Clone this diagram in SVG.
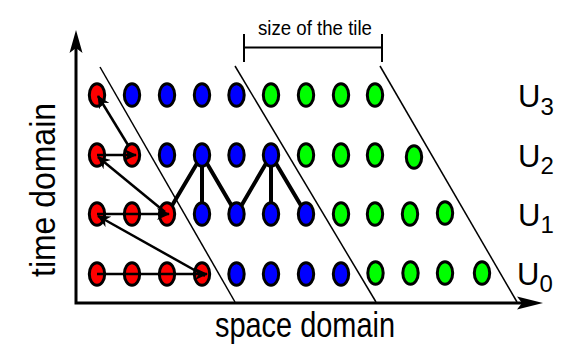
<svg xmlns="http://www.w3.org/2000/svg" width="577" height="347" viewBox="0 0 577 347">
<style>
.r{fill:#ff0000;stroke:#000;stroke-width:3}
.b{fill:#0000ff;stroke:#000;stroke-width:3}
.g{fill:#00ff00;stroke:#000;stroke-width:3}
.diag{stroke:#000;stroke-width:1.5;fill:none}
.thick{stroke:#000;stroke-width:4;fill:none;stroke-linecap:round}
.arr{stroke:#000;stroke-width:2.5;fill:none;marker-end:url(#ah)}
.axis{stroke:#000;stroke-width:3;fill:none}
.t{font-family:"Liberation Sans",Arial,sans-serif;fill:#000}
</style>
<defs>
<marker id="ah" markerUnits="userSpaceOnUse" markerWidth="13" markerHeight="12" viewBox="0 0 13 12" refX="12" refY="6" orient="auto">
<path d="M0,0 L13,6 L0,12 L4,6 Z" fill="#000"/>
</marker>
</defs>
<rect width="577" height="347" fill="#fff"/>

<g id="axes">
<path class="axis" d="M76,46 L76,303 L522,303"/>
<path d="M76,30 L82.5,53 L76,48 L69.5,53 Z" fill="#000"/>
<path d="M543,303 L517,309.5 L522,303 L517,296.5 Z" fill="#000"/>
</g>

<g id="tile-lines">
<line class="diag" x1="100" y1="67" x2="235" y2="302"/>
<line class="diag" x1="235" y1="66" x2="376" y2="302"/>
<line class="diag" x1="380" y1="66" x2="517" y2="302"/>
</g>

<g id="tile-bracket">
<path d="M244,47.5 L382,47.5 M244,34 L244,62 M382,34 L382,62" stroke="#000" stroke-width="2" fill="none"/>
<text class="t" x="258" y="35" font-size="20" textLength="114" lengthAdjust="spacingAndGlyphs">size of the tile</text>
</g>

<g id="dependencies">
<path class="thick" d="M167,214 L202,155 L202,214 M202,155 L236.5,214 L271,155 L271,214 M271,155 L306,214"/>
</g>

<g id="row-U3">
<g id="n3-0"><ellipse class="r" cx="97" cy="95" rx="7.7" ry="11.3"/></g>
<g id="n3-1"><ellipse class="b" cx="132" cy="95" rx="7.7" ry="11.3"/></g>
<g id="n3-2"><ellipse class="b" cx="167" cy="95" rx="7.7" ry="11.3"/></g>
<g id="n3-3"><ellipse class="b" cx="202" cy="95" rx="7.7" ry="11.3"/></g>
<g id="n3-4"><ellipse class="b" cx="236.5" cy="95" rx="7.7" ry="11.3"/></g>
<g id="n3-5"><ellipse class="g" cx="271" cy="95" rx="7.7" ry="11.3"/></g>
<g id="n3-6"><ellipse class="g" cx="306" cy="95" rx="7.7" ry="11.3"/></g>
<g id="n3-7"><ellipse class="g" cx="341" cy="95" rx="7.7" ry="11.3"/></g>
<g id="n3-8"><ellipse class="g" cx="375" cy="95" rx="7.7" ry="11.3"/></g>
</g>

<g id="row-U2">
<g id="n2-0"><ellipse class="r" cx="97" cy="155" rx="7.7" ry="11.3"/></g>
<g id="n2-1"><ellipse class="r" cx="132" cy="155" rx="7.7" ry="11.3"/></g>
<g id="n2-2"><ellipse class="b" cx="167" cy="155" rx="7.7" ry="11.3"/></g>
<g id="n2-3"><ellipse class="b" cx="202" cy="155" rx="7.7" ry="11.3"/></g>
<g id="n2-4"><ellipse class="b" cx="236.5" cy="155" rx="7.7" ry="11.3"/></g>
<g id="n2-5"><ellipse class="b" cx="271" cy="155" rx="7.7" ry="11.3"/></g>
<g id="n2-6"><ellipse class="g" cx="306" cy="155" rx="7.7" ry="11.3"/></g>
<g id="n2-7"><ellipse class="g" cx="341" cy="155" rx="7.7" ry="11.3"/></g>
<g id="n2-8"><ellipse class="g" cx="375" cy="155" rx="7.7" ry="11.3"/></g>
<g id="n2-9"><ellipse class="g" cx="414" cy="157" rx="7.7" ry="11.3"/></g>
</g>

<g id="row-U1">
<g id="n1-0"><ellipse class="r" cx="97" cy="214" rx="7.7" ry="11.3"/></g>
<g id="n1-1"><ellipse class="r" cx="132" cy="214" rx="7.7" ry="11.3"/></g>
<g id="n1-2"><ellipse class="r" cx="167" cy="214" rx="7.7" ry="11.3"/></g>
<g id="n1-3"><ellipse class="b" cx="202" cy="214" rx="7.7" ry="11.3"/></g>
<g id="n1-4"><ellipse class="b" cx="236.5" cy="214" rx="7.7" ry="11.3"/></g>
<g id="n1-5"><ellipse class="b" cx="271" cy="214" rx="7.7" ry="11.3"/></g>
<g id="n1-6"><ellipse class="b" cx="306" cy="214" rx="7.7" ry="11.3"/></g>
<g id="n1-7"><ellipse class="g" cx="341" cy="214" rx="7.7" ry="11.3"/></g>
<g id="n1-8"><ellipse class="g" cx="375" cy="214" rx="7.7" ry="11.3"/></g>
<g id="n1-9"><ellipse class="g" cx="410" cy="214" rx="7.7" ry="11.3"/></g>
<g id="n1-10"><ellipse class="g" cx="445" cy="213" rx="7.7" ry="11.3"/></g>
</g>

<g id="row-U0">
<g id="n0-0"><ellipse class="r" cx="97" cy="274" rx="7.7" ry="11.3"/></g>
<g id="n0-1"><ellipse class="r" cx="132" cy="274" rx="7.7" ry="11.3"/></g>
<g id="n0-2"><ellipse class="r" cx="167" cy="274" rx="7.7" ry="11.3"/></g>
<g id="n0-3"><ellipse class="r" cx="202" cy="274" rx="7.7" ry="11.3"/></g>
<g id="n0-4"><ellipse class="b" cx="236.5" cy="274" rx="7.7" ry="11.3"/></g>
<g id="n0-5"><ellipse class="b" cx="271" cy="274" rx="7.7" ry="11.3"/></g>
<g id="n0-6"><ellipse class="b" cx="306" cy="274" rx="7.7" ry="11.3"/></g>
<g id="n0-7"><ellipse class="b" cx="341" cy="274" rx="7.7" ry="11.3"/></g>
<g id="n0-8"><ellipse class="g" cx="375.5" cy="273" rx="7.7" ry="11.3"/></g>
<g id="n0-9"><ellipse class="g" cx="410.5" cy="273" rx="7.7" ry="11.3"/></g>
<g id="n0-10"><ellipse class="g" cx="445" cy="273" rx="7.7" ry="11.3"/></g>
<g id="n0-11"><ellipse class="g" cx="482" cy="273" rx="7.7" ry="11.3"/></g>
</g>

<g id="connectors">
<line class="arr" x1="97" y1="274" x2="207" y2="274"/>
<line class="arr" x1="205" y1="276" x2="98" y2="216"/>
<line class="arr" x1="97" y1="214" x2="169" y2="214"/>
<line class="arr" x1="165" y1="212" x2="98" y2="157"/>
<line class="arr" x1="97" y1="155" x2="136" y2="155"/>
<line class="arr" x1="128" y1="145" x2="98" y2="96"/>
</g>

<g id="labels">
<text class="t" x="518" y="107" font-size="31">U<tspan font-size="24" dy="8">3</tspan></text>
<text class="t" x="518" y="167" font-size="31">U<tspan font-size="24" dy="7">2</tspan></text>
<text class="t" x="518" y="226" font-size="31">U<tspan font-size="24" dy="7">1</tspan></text>
<text class="t" x="517" y="285" font-size="31">U<tspan font-size="24" dy="7">0</tspan></text>
<text class="t" x="215" y="337" font-size="35" textLength="180" lengthAdjust="spacingAndGlyphs">space domain</text>
<text class="t" transform="translate(55,190) rotate(-90)" x="0" y="0" font-size="35" text-anchor="middle" textLength="174" lengthAdjust="spacingAndGlyphs">time domain</text>
</g>
</svg>
